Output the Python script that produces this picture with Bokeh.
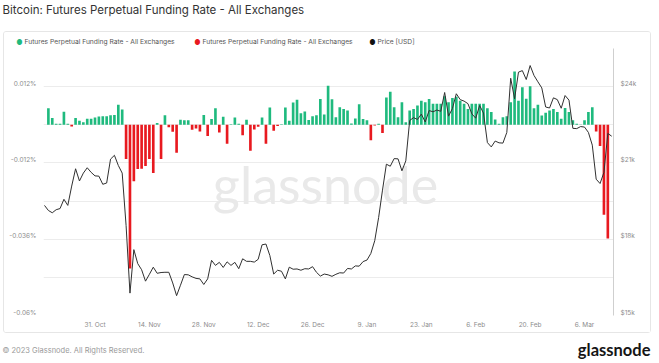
import pandas as pd
from bokeh.plotting import figure
from bokeh.layouts import column, row
from bokeh.models import (Range1d, LinearAxis, FixedTicker, CustomJSTickFormatter,
                          Label, ColumnDataSource, Spacer)
from bokeh.embed import file_html
from bokeh.resources import INLINE

# ---------------- data ----------------
price_start, price_end = "2022-10-18", "2023-03-13"
price_usd = [
    # Oct 18-31
    19330, 19130, 19040, 19160, 19205, 19570, 19330, 20090, 20770, 20290, 20600, 20810, 20630, 20490,
    # Nov
    20480, 20160, 20210, 21150, 21300, 20900, 20600, 18540, 15880, 17590, 17040, 16800, 16350, 16620,
    16900, 16660, 16690, 16700, 16700, 16280, 15780, 16190, 16610, 16600, 16520, 16460, 16440, 16220,
    16440, 17170,
    # Dec
    16970, 17090, 16890, 17110, 16970, 17090, 16840, 17230, 17130, 17130, 17100, 17210, 17780, 17810,
    17360, 16630, 16780, 16740, 16440, 16900, 16820, 16830, 16780, 16840, 16830, 16920, 16700, 16550,
    16630, 16600, 16540,
    # Jan
    16620, 16680, 16670, 16850, 16830, 16950, 16940, 17120, 17180, 17440, 17940, 18850, 19930, 20950,
    20870, 21170, 21160, 20690, 21080, 22670, 22780, 22710, 22920, 22610, 23060, 23010, 23080, 23030,
    23770, 22840, 23140,
    # Feb
    23720, 23490, 23430, 23330, 22930, 22760, 23260, 22960, 21800, 21630, 21860, 21790, 21780, 22200,
    24330, 23520, 24570, 24630, 24280, 24830, 24440, 24190, 23950, 23200, 23160, 23560, 23490, 23150,
    # Mar 1-13
    23650, 23470, 22360, 22350, 22430, 22410, 22200, 21700, 20360, 20190, 20630, 22160, 22050,
]

funding_start, funding_end = "2022-10-19", "2023-03-12"
funding_rate_pct = [
    0.0052, 0.0021, 0.0003, 0.0003, 0.0041, 0.0003, -0.0005, 0.0021, 0.0013, 0.0008,
    0.0019, 0.0019, 0.0023, 0.0026, 0.0027, 0.0027, 0.0030, 0.0031, 0.0063, 0.0048,
    -0.0108, -0.0452, -0.0178, -0.0139, -0.0138, -0.0130, -0.0108, -0.0152, 0.0006, -0.0108,
    0.0030, -0.0008, -0.0022, -0.0088, 0.0016, 0.0014, 0.0014, -0.0016, -0.0012, -0.0021,
    0.0031, -0.0035, 0.0018, 0.0052, -0.0024, 0.0025, -0.0060, 0.0002, 0.0023, 0.0003,
    -0.0033, 0.0016, -0.0082, -0.0015, -0.0006, 0.0023, -0.0060, 0.0054, -0.0019, -0.0004,
    0.0002, 0.0054, 0.0013, 0.0070, 0.0079, 0.0036, 0.0042, 0.0015, 0.0027, 0.0030,
    0.0081, 0.0032, 0.0123, 0.0080, 0.0024, 0.0055, 0.0050, 0.0045, 0.0004, 0.0020,
    0.0065, 0.0018, 0.0014, -0.0049, -0.0002, 0.0003, -0.0026, 0.0086, 0.0104, 0.0055,
    0.0024, 0.0071, 0.0008, 0.0045, 0.0050, 0.0061, 0.0076, 0.0071, 0.0081, 0.0066,
    0.0066, 0.0066, 0.0090, 0.0071, 0.0084, 0.0088, 0.0076, 0.0066, 0.0050, 0.0066,
    0.0066, 0.0066, 0.0066, 0.0052, 0.0040, 0.0017, 0.0003, 0.0024, 0.0027, 0.0071,
    0.0168, 0.0076, 0.0118, 0.0082, 0.0121, 0.0052, 0.0063, 0.0029, 0.0038, 0.0045,
    0.0050, 0.0040, 0.0019, 0.0053, 0.0040, 0.0014, 0.0003, 0.0001, 0.0014, 0.0040,
    0.0055, -0.0021, -0.0067, -0.0283, -0.0358,
]

x_tick_dates = ["2022-10-31", "2022-11-14", "2022-11-28", "2022-12-12", "2022-12-26",
                "2023-01-09", "2023-01-23", "2023-02-06", "2023-02-20", "2023-03-06"]
left_ticks = [-0.06, -0.036, -0.012, 0.012]
grid_ticks = [-0.06, -0.048, -0.036, -0.024, -0.012, 0.0, 0.012]
right_ticks = [15000, 18000, 21000, 24000]

series_name = "Futures Perpetual Funding Rate - All Exchanges"
price_name = "Price [USD]"
title_text = "Bitcoin: Futures Perpetual Funding Rate - All Exchanges"
footer_text = "\u00a9 2023 Glassnode. All Rights Reserved."
logo_text = "glassnode"

GREEN = "#1fba7e"
RED = "#e8191f"
LINE = "#303030"
FONT = "Inter"

# ---------------- sources ----------------
price_dates = pd.date_range(price_start, price_end, freq="D")
funding_dates = pd.date_range(funding_start, funding_end, freq="D")

pos = ColumnDataSource(dict(
    x=[d for d, v in zip(funding_dates, funding_rate_pct) if v >= 0],
    top=[v for v in funding_rate_pct if v >= 0]))
neg = ColumnDataSource(dict(
    x=[d for d, v in zip(funding_dates, funding_rate_pct) if v < 0],
    top=[v for v in funding_rate_pct if v < 0]))
price_src = ColumnDataSource(dict(x=price_dates, y=price_usd))

DAY = 86400000.0
t0 = pd.Timestamp(price_start).value / 1e6
x_start = t0 - 0.257 * DAY
x_end = t0 + 146.46 * DAY

Y_LO, Y_HI = -0.06, 0.024
P_LO, P_HI = 15000, 25500
FRAME_H = 267
LIFT_PX = 3  # tick labels sit slightly above their grid line, as in the original
left_lift = LIFT_PX * (Y_HI - Y_LO) / FRAME_H
right_lift = LIFT_PX * (P_HI - P_LO) / FRAME_H


def blank(w, h):
    f = figure(width=w, height=h, output_backend="svg", toolbar_location=None,
               x_range=Range1d(0, w), y_range=Range1d(h, 0),
               x_axis_location=None, y_axis_location=None,
               min_border=0, min_border_left=0, min_border_right=0,
               min_border_top=0, min_border_bottom=0,
               background_fill_color="white", border_fill_color="white")
    f.outline_line_color = None
    f.grid.visible = False
    return f


def text(f, x, y, s, size, color, align="left", style="normal", font=FONT):
    f.add_layout(Label(x=x, y=y, text=s, text_font=font, text_font_size=size,
                       text_color=color, text_align=align, text_baseline="middle",
                       text_font_style=style))


TOTAL_W = 655

# ---------------- title strip ----------------
top = blank(TOTAL_W, 31)
text(top, 2, 9.5, title_text, "11.5px", "#333333")

# ---------------- legend strip (inside panel) ----------------
PANEL_W = 646
leg = blank(PANEL_W, 16)
text(leg, 15, 9.5, "\u25cf", "7px", GREEN, align="center")
text(leg, 20, 9.5, series_name, "6.7px", "#555555")
text(leg, 193, 9.5, "\u25cf", "7px", RED, align="center")
text(leg, 198, 9.5, series_name, "6.7px", "#555555")
text(leg, 368, 9.5, "\u25cf", "7px", "#111111", align="center")
text(leg, 373, 9.5, price_name, "6.7px", "#555555")

# ---------------- main chart ----------------
p = figure(width=PANEL_W, height=284, output_backend="svg", toolbar_location=None,
           x_axis_type="datetime", x_range=Range1d(x_start, x_end),
           y_range=Range1d(Y_LO, Y_HI),
           min_border_left=39, min_border_right=37, min_border_top=0, min_border_bottom=17,
           background_fill_color="white", border_fill_color="white")
p.outline_line_color = None
p.extra_y_ranges = {"price": Range1d(P_LO, P_HI)}

# watermark (screen units relative to the frame)
p.add_layout(Label(x=282, y=132, x_units="screen", y_units="screen", text="glassnode",
                   text_font="Lato", text_font_size="52px", text_color="#e9e9e9",
                   text_align="center", text_baseline="middle", level="underlay"))

p.vbar(x="x", top="top", bottom=0, width=0.68 * DAY, source=pos,
       fill_color=GREEN, line_color=None)
p.vbar(x="x", top="top", bottom=0, width=0.68 * DAY, source=neg,
       fill_color=RED, line_color=None)
p.line(x="x", y="y", source=price_src, y_range_name="price",
       line_color=LINE, line_width=1.0)

ra = LinearAxis(y_range_name="price",
                ticker=FixedTicker(ticks=[t + right_lift for t in right_ticks]),
                formatter=CustomJSTickFormatter(code="return '$' + Math.round(tick/3000)*3 + 'k';"))
p.add_layout(ra, "right")

for ax in [p.xaxis[0], p.yaxis[0], ra]:
    ax.axis_line_color = None
    ax.major_tick_line_color = None
    ax.minor_tick_line_color = None
    ax.major_tick_out = 0
    ax.major_tick_in = 0
    ax.minor_tick_out = 0
    ax.minor_tick_in = 0
    ax.major_label_text_font = FONT
    ax.major_label_text_font_size = "6.5px"
    ax.major_label_text_color = "#8c8c8c"

ra.axis_line_color = "#cfcfcf"
ra.major_label_standoff = 7

p.xaxis[0].ticker = FixedTicker(ticks=[pd.Timestamp(d).value / 1e6 for d in x_tick_dates])
p.xaxis[0].formatter = CustomJSTickFormatter(code="""
const m = ["Jan","Feb","Mar","Apr","May","Jun","Jul","Aug","Sep","Oct","Nov","Dec"];
const d = new Date(tick);
return d.getUTCDate() + ". " + m[d.getUTCMonth()];
""")
p.xaxis[0].major_label_standoff = 5

p.yaxis[0].ticker = FixedTicker(ticks=[t + left_lift for t in left_ticks])
p.yaxis[0].formatter = CustomJSTickFormatter(code="""
const v = Math.round(tick / 0.012) * 0.012;
return (Math.round(v * 1000) / 1000) + '%';
""")
p.yaxis[0].major_label_standoff = 7

p.xgrid.visible = False
p.ygrid.ticker = FixedTicker(ticks=grid_ticks)
p.ygrid.grid_line_color = "#ececec"

# legend strip wrapped in a row so its frame is not aligned with the chart frame
panel = column(row(leg, spacing=0), p, spacing=0,
               styles={"border": "1px solid #e6e6e6", "border-radius": "3px"})
panel_row = row(Spacer(width=3, height=302), panel, spacing=0)

# ---------------- footer strip ----------------
foot = blank(TOTAL_W, 29)
text(foot, 2, 17, footer_text, "7.5px", "#9a9a9a")
text(foot, 650, 16, logo_text, "16.5px", "#151515", align="right", style="bold", font="Lato")

page = column(top, panel_row, foot, spacing=0)

open("out.html", "w").write(file_html(page, INLINE))
